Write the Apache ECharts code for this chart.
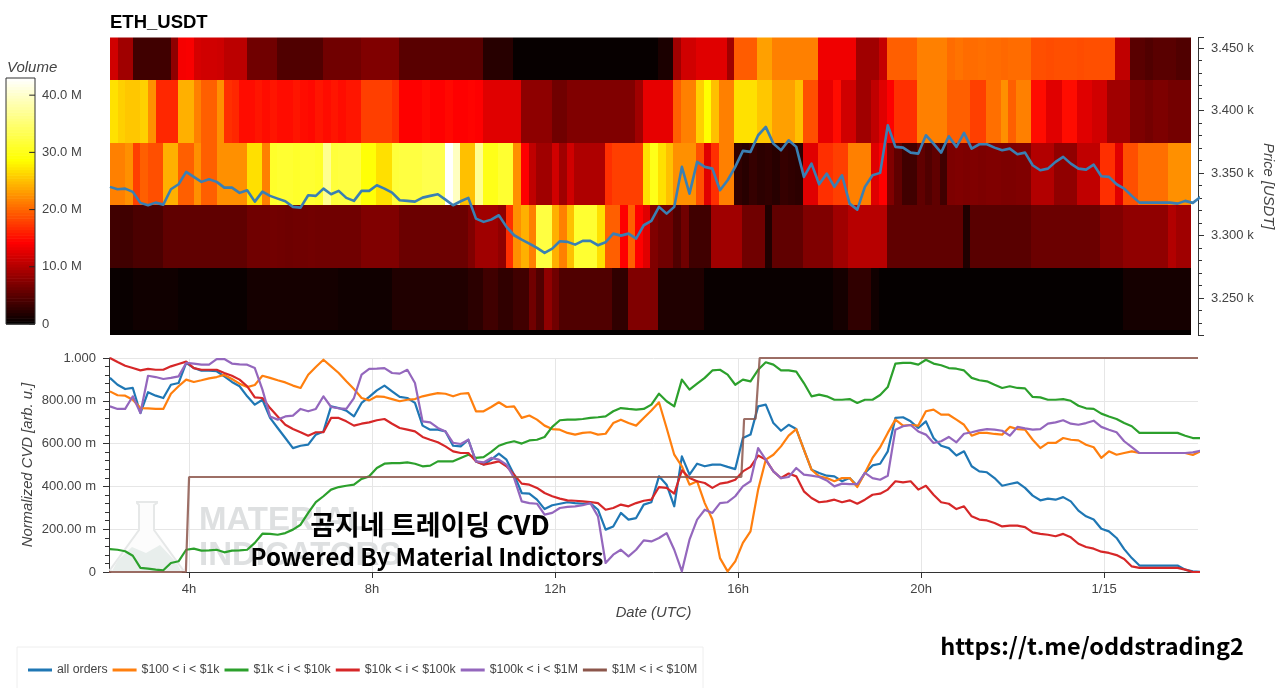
<!DOCTYPE html>
<html><head><meta charset="utf-8">
<style>html,body{margin:0;padding:0;background:#fff}#c{width:1280px;height:688px}</style>
<script src="https://cdn.jsdelivr.net/npm/echarts@6/dist/echarts.min.js"></script>
</head><body><div id="c"></div>
<script>
const startHour = 2.27, stepHours = 1/6, heatStepHours = 0.1664, bandHeight = 50;
const volumeMax = 43;
const hotColors = ['#000000','#ff0000','#ffff00','#ffffff'];
const legendNames = ['all orders','$100 < i < $1k','$1k < i < $10k','$10k < i < $100k','$100k < i < $1M','$1M < i < $10M'];
const lineColors = ['#1f77b4','#ff7f0e','#2ca02c','#d62728','#9467bd','#8c564b'];
const xTickHours = [4,8,12,16,20,24];
const volumeTicks = [0,10,20,30,40];

const bandLows = [3424.4,3374.4,3324.4,3274.4,3224.4,3174.4];
const vol3425 = [
11.7,9,9,3.6,3.6,3.6,3.6,3.6,8,13.8,
14,12,11.7,11.7,11.5,10.5,10.5,10.5,6.3,6.3,
6.3,6.3,4.5,4.5,4.5,4.5,4.5,4.5,6.3,6.3,
6.3,6.3,6.3,7.2,7.2,7.2,7.2,7.2,5,5,
5,5,5,5,5,5,5,5,5,2.2,
2.2,2.2,2.2,.4,.4,.4,.4,.4,.4,.4,
.4,.4,.4,.4,.4,.4,.4,.4,.4,.4,
.4,.4,1.5,1.5,9,11.7,11.7,12.6,12.6,12.6,
12.6,9,19.5,19.5,19.5,23.3,23.3,21.5,21.5,21.5,
21.5,21.5,21.5,13.5,13.5,13.5,13.5,13.5,9,9,
9,11,19.7,19.7,19.7,19.7,21.5,21.5,21.5,21.5,
20.4,20.8,20.4,20.4,20.6,20.4,20.4,20.2,20.4,20.4,
20.4,18.8,18.8,18.6,18.8,18.8,18.8,18.6,18.8,18.8,
18.8,18.8,10.8,10.8,5,5,4.5,5,5,5,
4.5,4.5];
const vol3375 = [
27,26,25.5,25.5,26,22.4,16.5,16.5,16.5,24.2,
24.2,21.5,19.7,19.7,22.4,17,16.5,15,15,15.5,
15,15.5,15,15,15.5,15,14.8,15.5,15,15.5,
15,15.5,15.5,17.9,17.9,17.9,17.9,17,14.3,14.3,
14.3,14.8,14.3,14.3,14.8,14.3,14.3,14.5,14.3,12.6,
12.6,12.6,12.6,12.6,8,8,8,8,6.3,6.3,
7.2,7.2,7.2,7.2,7.2,7.2,7.2,7.2,7.2,9,
13,13,13,13,19.7,21.5,21.5,26,28.7,25.1,
21.5,21.5,27,27,27,25.5,25.5,23.3,23.3,23.3,
25.1,18.8,18.8,13,13,15,11.7,11.7,9,9,
10.8,12.6,14.3,17,17,17,21.5,21.5,21.5,21.5,
19.7,19.7,19.7,17.9,17.9,20.6,20.6,22.4,19.7,21.5,
21.5,15,15,12.6,12.6,15,15,12.6,12.6,11.7,
11.7,9,9,9,7,7,6.5,7,7,6.5,
6.5,6.5];
const vol3325 = [
21.5,21.5,22.4,17.9,19.7,18.8,18.8,24.2,24.2,19.7,
19.7,22.4,19.7,19.7,22.4,22.4,22.4,22.4,26.9,26.9,
21.5,31,31.4,31.4,31,31.4,31.4,31,36.8,32,
32.3,32.3,32.3,29,29,26.9,26.9,32,32.3,32.3,
32.3,33,33,33,43,39.5,25.1,25.1,36.8,30,
30,31.4,31.4,22.4,14.3,10.8,9,9,11.7,9,
11.7,9.8,9.8,9.8,9.8,17,17.9,17.9,17.9,17.9,
26.9,30,26.9,25.1,22.4,22.4,22.4,18.8,12.6,17,
21.5,21.5,2.7,2.2,3,2.5,2.7,2.2,3,2.7,
2.5,12.6,12.6,17,17,17.9,17.9,21.5,21.5,21.5,
12.6,14.3,7.2,5.4,3.6,3.6,5.4,4.5,5.4,3.6,
7,7.2,7,7.2,7,7.2,7.2,7,7,7.2,
7.2,10,10,10,8.1,8.1,8.1,10.8,10.8,10.8,
17,17,12.6,18.8,18.8,20.6,20.6,20.6,20.6,22.4,
22.4,22.4];
const vol3275 = [
3.6,3.6,3.6,4.2,4.2,4.2,4.2,5.4,5.4,5.4,
5.4,5.4,5.4,5.4,5.4,5.4,5.4,5.4,6.3,6.3,
6.3,6.4,6.3,6.2,6.3,6.3,6.4,6.3,6.3,6.3,
6.3,6.3,6.3,7.2,7.2,7.2,7.2,7.2,6,6,
6,6,6,6,6,6,6,7.2,9,9,
9,8.1,17,22.4,24.2,21.5,32.3,32.3,24.2,21.5,
25.1,31.4,31.4,31.4,26.9,19.7,19.7,14.3,19.7,14.3,
12.6,7.2,6.3,6.3,4.5,6.3,3.6,3.6,3.6,9,
9,9,9,6.3,6.3,6.3,1.8,5.4,5.4,5.4,
5.4,7.2,7.2,7.2,7.2,9,9,10.3,10.3,10.3,
10.3,10.3,5.4,5.4,5.4,5.4,5.4,5.4,5.4,5.4,
5.4,5.4,1.8,5,5,5,5,5,5,5,
5,6,6,6,6,6,6,6,6,6,
7.2,7.2,7.2,8.1,8.1,8.1,8.1,8.1,8.1,10,
9,9];
const vol3225 = [
.5,.5,.5,.9,.9,.9,.9,.9,.9,.5,
.5,.5,.5,.5,.5,.5,.5,.5,1.2,1.2,
1.2,1.2,1.2,1.2,1.2,1.2,1.2,1.2,1.2,1.2,
.9,.9,.9,.9,.9,.9,.9,1.8,1.8,1.8,
1.8,1.8,1.8,1.8,1.8,1.8,1.8,2.4,2.4,3.6,
3.6,2.7,2.7,3.6,3.6,6.3,4.5,8.1,6.3,4.5,
4.5,4.5,4.5,4.5,4.5,4.5,2.7,2.7,7.2,7.2,
7.2,7.2,1.8,1.8,1.8,1.8,1.8,1.8,.5,.5,
.5,.5,.5,.5,.5,.5,.5,.5,.5,.5,
.5,.5,.5,.5,.5,1.2,1.2,2.7,2.7,2.7,
.9,.3,.3,.3,.3,.3,.3,.3,.3,.3,
.3,.3,.3,.3,.3,.3,.3,.3,.3,.3,
.3,.3,.3,.3,.3,.3,.3,.3,.3,.3,
.3,.3,.3,1.2,1.2,1.2,1.2,1.2,1.2,1.2,
1.2,1.2];
const vol3175 = [
.2,.2,.2,.2,.2,.2,.2,.2,.2,.2,.2,.2,.2,.2,.2,.2,.2,.2,.2,.2,
.2,.2,.2,.2,.2,.2,.2,.2,.2,.2,.2,.2,.2,.2,.2,.2,.2,.2,.2,.2,
.2,.2,.2,.2,.2,.2,.2,.2,.2,.2,.2,.2,.2,.2,.2,.2,.2,.2,.2,.2,
.2,.2,.2,.2,.2,.2,.2,.2,.2,.2,.2,.2,.2,.2,.2,.2,.2,.2,.2,.2,
.2,.2,.2,.2,.2,.2,.2,.2,.2,.2,.2,.2,.2,.2,.2,.2,.2,.2,.2,.2,
.2,.2,.2,.2,.2,.2,.2,.2,.2,.2,.2,.2,.2,.2,.2,.2,.2,.2,.2,.2,
.2,.2,.2,.2,.2,.2,.2,.2,.2,.2,.2,.2,.2,.2,.2,.2,.2,.2,.2,.2,
.2,.2];

const price = [
3339.1,3337.2,3337.7,3335.1,3326.3,3324.4,3326.5,3324.9,3337.2,3341.2,
3351.1,3347.1,3343.1,3345.2,3343.1,3338.5,3338.5,3334.3,3336.4,3327.3,
3335.3,3331.9,3329.7,3327.6,3323.1,3322.5,3332.4,3331.9,3337.7,3333.2,
3335.9,3330.3,3327.9,3335.9,3335.9,3340.4,3337.7,3334.5,3328.4,3327.9,
3327.3,3330.5,3331.9,3333.2,3328.9,3324.4,3327.6,3330.3,3313.7,3311.1,
3312.9,3316.4,3307.1,3300.4,3296.9,3293.7,3290.3,3286.3,3289.7,3295.6,
3295.1,3292.9,3295.9,3295.9,3292.4,3294.8,3301.7,3300.1,3301.7,3297.7,
3308.4,3311.9,3323.1,3317.7,3323.1,3355.1,3333.7,3359.1,3355.1,3353.7,
3336.4,3344.4,3355.1,3367.9,3367.1,3380.4,3387.1,3373.7,3368.4,3376.4,
3371.1,3347.1,3357.7,3341.2,3349.7,3339.1,3348.4,3325.7,3320.9,3339.1,
3348.4,3350.3,3388.4,3371.1,3370.5,3366.5,3365.7,3380.4,3373.7,3366.5,
3379.6,3371.1,3382.3,3369.7,3373.2,3373.2,3370.5,3368.4,3369.7,3365.2,
3366.5,3356.4,3352.4,3353.7,3359.1,3363.1,3357.7,3353.7,3352.9,3356.9,
3347.6,3347.1,3341.2,3337.7,3331.9,3326.5,3326.5,3326.5,3326.5,3326.5,
3325.7,3327.9,3326.3,3331];

const allOrders = [
.907,.875,.855,.860,.743,.840,.824,.813,.875,.883,
.977,.953,.941,.941,.938,.914,.888,.868,.821,.782,
.805,.720,.673,.626,.579,.590,.595,.642,.657,.774,
.766,.754,.727,.790,.818,.849,.871,.844,.818,.813,
.790,.684,.665,.665,.657,.590,.587,.618,.517,.502,
.525,.553,.525,.455,.369,.366,.338,.294,.312,.319,
.326,.322,.319,.322,.291,.198,.213,.276,.245,.252,
.315,.326,.447,.408,.307,.540,.455,.506,.494,.502,
.502,.491,.481,.626,.642,.774,.782,.696,.660,.688,
.668,.572,.478,.463,.450,.447,.424,.439,.403,.463,
.498,.506,.564,.720,.723,.704,.673,.704,.626,.590,
.579,.544,.564,.494,.470,.466,.439,.403,.411,.419,
.393,.357,.335,.343,.338,.350,.330,.287,.260,.245,
.202,.190,.159,.107,.065,.030,.030,.030,.030,.030,
.030,.011,.003,0];
const orders100to1k = [
.844,.826,.824,.805,.766,.765,.762,.762,.833,.868,
.899,.888,.896,.905,.911,.921,.902,.880,.864,.874,
.917,.907,.896,.886,.871,.860,.922,.958,.992,.961,
.930,.891,.855,.813,.802,.821,.818,.808,.798,.805,
.808,.821,.829,.836,.833,.821,.833,.836,.751,.751,
.771,.793,.771,.774,.720,.731,.712,.684,.668,.665,
.650,.642,.650,.653,.642,.646,.696,.712,.696,.684,
.720,.755,.793,.673,.548,.494,.408,.424,.322,.245,
.065,.003,.050,.136,.190,.385,.525,.548,.587,.637,
.668,.572,.478,.447,.439,.424,.439,.439,.397,.463,
.533,.583,.650,.712,.684,.687,.684,.751,.759,.735,
.735,.712,.688,.637,.650,.650,.645,.642,.678,.668,
.665,.618,.579,.603,.603,.626,.618,.615,.595,.583,
.533,.564,.548,.556,.564,.556,.556,.556,.556,.556,
.556,.556,.547,.564];
const orders1kto10k = [
.107,.104,.097,.076,.019,.016,.011,.008,.042,.050,
.104,.109,.100,.101,.104,.092,.100,.101,.104,.136,
.179,.178,.174,.182,.198,.221,.276,.326,.354,.385,
.397,.403,.408,.435,.447,.486,.506,.509,.509,.512,
.506,.494,.497,.517,.517,.517,.533,.548,.533,.537,
.561,.590,.603,.611,.600,.615,.618,.631,.678,.709,
.712,.712,.715,.720,.723,.727,.751,.766,.762,.759,
.762,.782,.833,.798,.774,.899,.852,.880,.907,.942,
.945,.922,.875,.899,.891,.945,.980,.969,.942,.942,
.936,.883,.821,.829,.821,.805,.805,.808,.790,.805,
.805,.827,.864,.974,.977,.977,.969,.992,.974,.966,
.953,.950,.942,.907,.896,.891,.875,.860,.868,.860,
.858,.818,.816,.805,.805,.808,.800,.777,.765,.762,
.740,.727,.715,.696,.681,.650,.650,.650,.650,.650,
.650,.637,.626,.626];
const orders10kto100k = [
1,.981,.964,.953,.942,.949,.945,.945,.961,.972,
.983,.953,.945,.945,.945,.930,.917,.899,.868,.816,
.813,.766,.727,.688,.668,.653,.637,.653,.653,.720,
.720,.704,.684,.693,.699,.709,.715,.693,.673,.665,
.657,.631,.618,.606,.587,.564,.556,.556,.517,.502,
.509,.517,.494,.455,.413,.408,.393,.369,.354,.343,
.335,.333,.330,.327,.322,.291,.299,.315,.307,.322,
.333,.338,.397,.393,.366,.475,.439,.424,.416,.393,
.413,.419,.431,.470,.491,.544,.525,.470,.439,.460,
.447,.377,.346,.326,.330,.338,.326,.335,.319,.338,
.361,.366,.385,.424,.419,.424,.385,.403,.361,.326,
.319,.294,.307,.260,.245,.241,.229,.213,.217,.217,
.210,.185,.178,.174,.167,.178,.162,.132,.117,.109,
.095,.089,.079,.061,.026,.019,.019,.019,.019,.019,
.019,.011,0,0];
const orders100kto1M = [
.774,.762,.762,.821,.743,.917,.911,.902,.907,.914,
.977,.974,.969,.969,.995,.995,.974,.970,.969,.953,
.852,.727,.712,.727,.731,.762,.751,.762,.821,.771,
.765,.762,.813,.922,.949,.950,.953,.930,.927,.945,
.883,.704,.699,.673,.657,.603,.598,.618,.517,.512,
.533,.525,.502,.439,.330,.322,.319,.268,.276,.299,
.304,.307,.312,.322,.260,.042,.081,.104,.073,.104,
.148,.143,.159,.182,.104,.003,.151,.245,.291,.276,
.322,.326,.354,.400,.424,.579,.525,.470,.439,.444,
.486,.455,.450,.444,.428,.400,.413,.411,.411,.463,
.439,.431,.450,.665,.681,.687,.657,.642,.603,.611,
.631,.606,.646,.653,.662,.668,.665,.660,.637,.678,
.671,.665,.668,.693,.699,.709,.693,.688,.696,.707,
.678,.665,.653,.611,.583,.556,.556,.556,.556,.556,
.556,.556,.559,.567];
const stepHoursBrown = [2.25,3.93,4.0,16.07,16.13,16.38,16.47,26.05];
const orders1Mto10M = [0,0,.444,.444,.715,.715,1,1];

const seriesValues = [allOrders,orders100to1k,orders1kto10k,orders10kto100k,orders100kto1M];
const bandValues = [vol3425,vol3375,vol3325,vol3275,vol3225,vol3175];

const xTickFormat = v => v % 4 !== 0 ? '' : (v === 24 ? '1/15' : v + 'h');
const labelFont = {color:'#444',fontFamily:'Liberation Sans',fontSize:13};
const nameFont = {color:'#444',fontFamily:'Liberation Sans',fontSize:14.8,fontStyle:'italic'};

const heatData = [];
bandLows.forEach((lo,b)=>bandValues[b].forEach((v,c)=>heatData.push([startHour+c*heatStepHours,lo,v])));
const colorbarData = [];
for(let m=0;m<volumeMax;m+=0.5) colorbarData.push([m,m+0.5,m+0.25]);

const heatItem = (params,api)=>{
  const a=api.coord([api.value(0),api.value(1)+bandHeight]);
  const b=api.coord([api.value(0)+heatStepHours,api.value(1)]);
  const x0=Math.round(a[0]), x1=Math.round(b[0]), y0=Math.round(a[1]), y1=Math.round(b[1]);
  const shape=echarts.graphic.clipRectByRect({x:x0,y:y0,width:x1-x0,height:y1-y0},params.coordSys);
  return shape&&{type:'rect',shape,style:{fill:api.visual('color')}};
};
const barItem = (params,api)=>{
  const a=api.coord([0,api.value(1)]);
  const b=api.coord([1,api.value(0)]);
  return {type:'rect',shape:{x:a[0],y:a[1],width:b[0]-a[0],height:b[1]-a[1]+0.6},style:{fill:api.visual('color')}};
};
const barTickItem = (params,api)=>{
  const a=api.coord([0.8,api.value(0)]);
  const b=api.coord([1,api.value(0)]);
  return {type:'line',shape:{x1:a[0],y1:a[1],x2:b[0],y2:b[1]},style:{stroke:'#222',lineWidth:1}};
};

const lineSeries = seriesValues.map((vals,k)=>({
  name:legendNames[k],type:'line',xAxisIndex:1,yAxisIndex:1,showSymbol:false,symbol:'none',
  lineStyle:{color:lineColors[k],width:2.2,join:'round'},itemStyle:{color:lineColors[k]},
  data:vals.map((v,i)=>[startHour+i*stepHours,v]),z:3+k,silent:true
}));
lineSeries.push({
  name:legendNames[5],type:'line',xAxisIndex:1,yAxisIndex:1,showSymbol:false,symbol:'none',
  lineStyle:{color:lineColors[5],width:2.2,opacity:.85},itemStyle:{color:lineColors[5]},
  data:orders1Mto10M.map((v,i)=>[stepHoursBrown[i],v]),z:9,silent:true
});

const chart = echarts.init(document.getElementById('c'),null,{renderer:'canvas'});
chart.setOption({
  animation:false,backgroundColor:'#fff',
  title:{text:'ETH_USDT',left:105,top:8,textStyle:{fontFamily:'Liberation Sans',fontSize:18.5,fontWeight:'bold',color:'#000'}},
  grid:[
    {left:109,top:37.5,width:1089,height:297.5,outerBoundsMode:'none'},
    {left:109,top:358,width:1089,height:214,outerBoundsMode:'none'},
    {left:6,top:78,width:29,height:246,outerBoundsMode:'none'}
  ],
  xAxis:[
    {type:'value',gridIndex:0,min:2.25,max:26.05,show:false},
    {type:'value',gridIndex:1,min:2.25,max:26.05,minInterval:4,maxInterval:4,
     name:'Date (UTC)',nameLocation:'middle',nameGap:33,nameMoveOverlap:false,nameTextStyle:nameFont,
     axisLine:{show:true,onZero:false,lineStyle:{color:'#333'}},
     axisTick:{show:true,length:6,lineStyle:{color:'#333'},customValues:xTickHours},
     axisLabel:{...labelFont,margin:11,formatter:xTickFormat,hideOverlap:false},
     splitLine:{show:true,lineStyle:{color:'#e6e6e6'}}},
    {type:'value',gridIndex:2,min:0,max:1,show:false}
  ],
  yAxis:[
    {type:'value',gridIndex:0,position:'right',min:3220.6,max:3458.6,minInterval:50,maxInterval:50,
     name:'Price [USDT]',nameLocation:'middle',nameRotate:-90,nameGap:63,nameMoveOverlap:false,nameTextStyle:nameFont,
     axisLine:{show:true,lineStyle:{color:'#333'}},
     axisTick:{show:true,length:6,lineStyle:{color:'#333'}},
     minorTick:{show:true,splitNumber:5,length:4,lineStyle:{color:'#333'}},
     axisLabel:{...labelFont,margin:13,formatter:v=>v%50===0?(v/1000).toFixed(3)+' k':''},
     splitLine:{show:false}},
    {type:'value',gridIndex:1,min:0,max:1,interval:0.2,
     name:'Normalized CVD [arb. u.]',nameLocation:'middle',nameGap:74,nameMoveOverlap:false,nameTextStyle:nameFont,
     axisLine:{show:true,lineStyle:{color:'#333'}},
     axisTick:{show:true,length:6,lineStyle:{color:'#333'}},
     minorTick:{show:true,splitNumber:5,length:4,lineStyle:{color:'#333'}},
     axisLabel:{...labelFont,margin:13,formatter:v=>v===1?'1.000':(v===0?'0':(v*1000).toFixed(2)+' m')},
     splitLine:{show:true,lineStyle:{color:'#e6e6e6'}}},
    {type:'value',gridIndex:2,position:'right',min:0,max:volumeMax,interval:10,
     axisLine:{show:false},
     axisTick:{show:false},
     axisLabel:{...labelFont,margin:7,formatter:v=>v===0?'0':(v%10===0?v.toFixed(1)+' M':'')},
     splitLine:{show:false}}
  ],
  visualMap:{type:'continuous',show:false,min:0,max:volumeMax,dimension:2,seriesIndex:[0,1],
    inRange:{color:hotColors}},
  legend:{left:23,top:659,itemWidth:24,itemHeight:3,itemGap:5,icon:'rect',
    data:legendNames,selectedMode:false,
    textStyle:{color:'#444',fontFamily:'Liberation Sans',fontSize:12.3}},
  series:[
    {type:'custom',name:'volume',xAxisIndex:0,yAxisIndex:0,renderItem:heatItem,data:heatData,
     encode:{x:0,y:1},z:1,silent:true},
    {type:'custom',name:'colorbar',xAxisIndex:2,yAxisIndex:2,renderItem:barItem,data:colorbarData,
     encode:{y:[0,1]},z:1,silent:true},
    {type:'line',name:'price',xAxisIndex:0,yAxisIndex:0,showSymbol:false,symbol:'none',
     lineStyle:{color:'#3a7fb3',width:2.6,join:'round'},
     data:price.map((v,i)=>[startHour+i*stepHours,v]),z:4,silent:true},
    {type:'custom',name:'colorbar ticks',xAxisIndex:2,yAxisIndex:2,renderItem:barTickItem,data:volumeTicks.map(v=>[v]),
     encode:{y:0},z:2,silent:true},
    ...lineSeries
  ],
  graphic:[
    {type:'rect',shape:{x:6,y:78,width:29,height:246},style:{fill:'none',stroke:'#333',lineWidth:1},z:50,silent:true},
    {type:'text',x:7,y:60,style:{text:'Volume',fontFamily:'Liberation Sans',fontSize:15,fontStyle:'italic',fill:'#444'},z:50,silent:true},
    {type:'rect',shape:{x:17,y:647,width:686,height:48},style:{fill:'none',stroke:'#eeeeee',lineWidth:1},z:0,silent:true},
    {type:'polygon',shape:{points:[[137,502],[157,502],[157,503],[154,505],[154,530],[183,570],[181,572],[112,572],[110,570],[139,530],[139,505],[137,503]]},
      style:{fill:'#fcfcfc',stroke:'#e6e8e8',lineWidth:2},z:1,silent:true},
    {type:'polygon',shape:{points:[[118,560],[132,547],[146,553],[160,545],[176,562],[181,571],[112,571]]},
      style:{fill:'#e8eeec'},z:1,silent:true},
    {type:'text',x:199,y:504,style:{text:'MATERIAL',fontFamily:'Liberation Sans',fontSize:33,fontWeight:'bold',fill:'#dee0e1'},z:1,silent:true},
    {type:'text',x:199,y:539,style:{text:'INDICATORS',fontFamily:'Liberation Sans',fontSize:33,fontWeight:'bold',fill:'#dee0e1'},z:1,silent:true},
    {type:'text',x:430,y:525,style:{text:'곰지네 트레이딩 CVD',align:'center',verticalAlign:'middle',fontFamily:'Noto Sans CJK KR',fontSize:27,fontWeight:'bold',fill:'#000'},z:60,silent:true},
    {type:'text',x:427,y:557,style:{text:'Powered By Material Indictors',align:'center',verticalAlign:'middle',fontFamily:'Noto Sans CJK KR',fontSize:24,fontWeight:'bold',fill:'#000'},z:60,silent:true},
    {type:'text',x:1092,y:646,style:{text:'https://t.me/oddstrading2',align:'center',verticalAlign:'middle',fontFamily:'Noto Sans CJK KR',fontSize:23.5,fontWeight:'bold',fill:'#000'},z:60,silent:true}
  ]
});
</script></body></html>
